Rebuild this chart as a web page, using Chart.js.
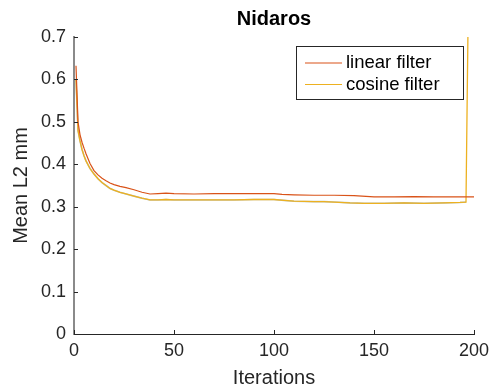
<!DOCTYPE html>
<html>
<head>
<meta charset="utf-8">
<script src="https://cdn.jsdelivr.net/npm/chart.js@4/dist/chart.umd.min.js"></script>
<style>
  html, body { margin: 0; padding: 0; background: #fff; }
  #wrap { width: 489px; height: 390px; }
</style>
</head>
<body>
<div id="wrap"><canvas id="grafico"></canvas></div>
<script>
// dados
const linearIter = [1, 2, 3, 4, 5, 6, 8, 10, 12, 14, 16, 18, 20, 23, 26, 30, 34, 38, 42, 46, 50, 60, 70, 80, 90, 100, 104, 110, 120, 130, 140, 150, 160, 170, 180, 190, 200];
const linearVals = [0.632, 0.50, 0.47, 0.452, 0.438, 0.425, 0.402, 0.385, 0.375, 0.367, 0.361, 0.356, 0.352, 0.348, 0.345, 0.340, 0.334, 0.330, 0.331, 0.332, 0.331, 0.330, 0.331, 0.331, 0.331, 0.331, 0.329, 0.328, 0.327, 0.327, 0.326, 0.323, 0.323, 0.324, 0.323, 0.323, 0.323];

const cosineIter = [1, 2, 3, 4, 5, 6, 8, 10, 12, 14, 16, 18, 20, 23, 26, 30, 34, 38, 42, 46, 50, 60, 70, 80, 90, 100, 105, 110, 120, 125, 130, 138, 145, 155, 165, 175, 185, 193, 196, 197];
const cosineVals = [0.60, 0.48, 0.455, 0.435, 0.42, 0.408, 0.39, 0.377, 0.366, 0.357, 0.350, 0.343, 0.339, 0.334, 0.330, 0.325, 0.320, 0.316, 0.316, 0.317, 0.316, 0.316, 0.316, 0.316, 0.317, 0.317, 0.315, 0.313, 0.312, 0.312, 0.311, 0.309, 0.308, 0.308, 0.309, 0.308, 0.309, 0.310, 0.311, 0.72];

const xTicks = [0, 50, 100, 150, 200];
const yTicks = [0, 0.1, 0.2, 0.3, 0.4, 0.5, 0.6, 0.7];

const pts = (xs, ys) => xs.map((x, i) => ({ x, y: ys[i] }));

const corEixo = '#262626';
const fonte = '"Liberation Sans", Arial, Helvetica, sans-serif';

// ticks para dentro, estilo matlab
const ticksDentro = {
  id: 'ticksDentro',
  afterDraw(chart) {
    const { ctx, chartArea: a, scales: { x, y } } = chart;
    ctx.save();
    ctx.strokeStyle = corEixo;
    ctx.lineWidth = 1;
    ctx.beginPath();
    for (const v of yTicks) {
      const py = Math.round(y.getPixelForValue(v)) + 0.5;
      ctx.moveTo(a.left, py); ctx.lineTo(a.left + 4, py);
    }
    for (const v of xTicks) {
      const px = Math.round(x.getPixelForValue(v)) + 0.5;
      ctx.moveTo(px, a.bottom); ctx.lineTo(px, a.bottom - 4);
    }
    ctx.stroke();
    ctx.restore();
  }
};

// titulo e legenda desenhados a mao
const tituloLegenda = {
  id: 'tituloLegenda',
  afterDraw(chart) {
    const { ctx, chartArea: a } = chart;
    ctx.save();
    ctx.fillStyle = '#000';
    ctx.font = 'bold 20px ' + fonte;
    ctx.textAlign = 'center';
    ctx.textBaseline = 'middle';
    ctx.fillText('Nidaros', (a.left + a.right) / 2, 19);

    const bx = 296, by = 46, bw = 167, bh = 53;
    ctx.fillStyle = '#fff';
    ctx.fillRect(bx, by, bw, bh);
    ctx.strokeStyle = corEixo;
    ctx.lineWidth = 1;
    ctx.strokeRect(bx + 0.5, by + 0.5, bw, bh);

    ctx.font = '18.5px ' + fonte;
    ctx.textAlign = 'left';
    const ds = chart.data.datasets.filter(d => d.label);
    ds.forEach((d, i) => {
      const yy = by + 17 + i * 21.5;
      ctx.strokeStyle = d.borderColor;
      ctx.lineWidth = 1.2;
      ctx.beginPath();
      ctx.moveTo(bx + 9, yy); ctx.lineTo(bx + 46, yy);
      ctx.stroke();
      ctx.fillStyle = '#000';
      ctx.fillText(d.label, bx + 50, yy);
    });
    ctx.restore();
  }
};

new Chart(document.getElementById('grafico'), {
  type: 'line',
  data: {
    datasets: [
      {
        label: 'linear filter',
        data: pts(linearIter, linearVals),
        borderColor: '#D95319',
        borderWidth: 1.2,
        pointRadius: 0,
        tension: 0
      },
      {
        label: 'cosine filter',
        data: pts(cosineIter, cosineVals),
        borderColor: '#EDB120',
        borderWidth: 1.3,
        pointRadius: 0,
        tension: 0
      },
      {
        label: '',
        data: pts(cosineIter.slice(0, -1), cosineVals.slice(0, -1)),
        borderColor: 'rgba(130,150,140,0.55)',
        borderWidth: 1.6,
        pointRadius: 0,
        tension: 0
      }
    ]
  },
  options: {
    responsive: true,
    maintainAspectRatio: false,
    animation: false,
    parsing: false,
    layout: { padding: { top: 37, right: 15, left: 0, bottom: 0 } },
    plugins: {
      legend: { display: false },
      title: { display: false },
      tooltip: { enabled: false }
    },
    scales: {
      x: {
        type: 'linear', min: 0, max: 200,
        afterBuildTicks: s => { s.ticks = xTicks.map(v => ({ value: v })); },
        afterFit: s => { s.height = 56; s.paddingRight = 0; s.paddingLeft = 0; },
        grid: { display: false, drawTicks: false },
        border: { color: corEixo, width: 1 },
        ticks: { color: corEixo, font: { family: fonte, size: 18 }, padding: 6, maxRotation: 0 },
        title: { display: true, text: 'Iterations', color: corEixo, font: { family: fonte, size: 20 }, padding: { top: 0, bottom: 0 } }
      },
      y: {
        min: 0, max: 0.7,
        afterBuildTicks: s => { s.ticks = yTicks.map(v => ({ value: v })); },
        afterFit: s => { s.width = 74; s.paddingTop = 0; s.paddingBottom = 0; },
        grid: { display: false, drawTicks: false },
        border: { color: '#8a8a8a', width: 2 },
        ticks: { color: corEixo, font: { family: fonte, size: 18 }, padding: 8, callback: v => String(Math.round(v * 10) / 10) },
        title: { display: true, text: 'Mean L2 mm', color: corEixo, font: { family: fonte, size: 20 }, padding: { top: 9, bottom: 0 } }
      }
    }
  },
  plugins: [ticksDentro, tituloLegenda]
});
</script>
</body>
</html>
